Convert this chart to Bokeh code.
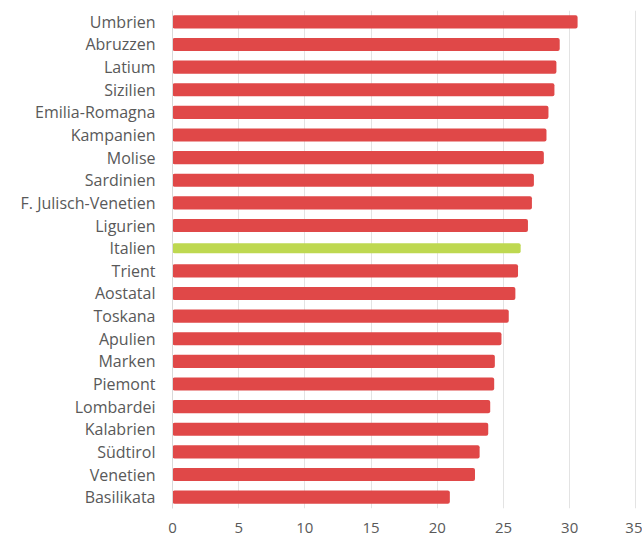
from bokeh.plotting import figure
from bokeh.models import ColumnDataSource, FixedTicker, Range1d
from bokeh.embed import file_html
from bokeh.resources import INLINE

regions = ["Umbrien", "Abruzzen", "Latium", "Sizilien", "Emilia-Romagna", "Kampanien",
           "Molise", "Sardinien", "F. Julisch-Venetien", "Ligurien", "Italien", "Trient",
           "Aostatal", "Toskana", "Apulien", "Marken", "Piemont", "Lombardei", "Kalabrien",
           "Südtirol", "Venetien", "Basilikata"]
values = [30.6, 29.25, 29.0, 28.85, 28.4, 28.25, 28.05, 27.3, 27.15, 26.85, 26.3, 26.1,
          25.9, 25.4, 24.85, 24.35, 24.3, 24.0, 23.85, 23.2, 22.85, 20.95]
x_ticks = [0, 5, 10, 15, 20, 25, 30, 35]

RED = "#e04848"
GREEN = "#bed850"

colors = [GREEN if r == "Italien" else RED for r in regions]
heights = [0.44 if r == "Italien" else 0.58 for r in regions]

src = ColumnDataSource(dict(y=regions, x=values, c=colors, h=heights))

p = figure(y_range=list(reversed(regions)), x_range=Range1d(0, 35.05),
           frame_width=464, frame_height=498,
           min_border_left=172, min_border_top=10, min_border_right=6, min_border_bottom=0,
           output_backend="svg", toolbar_location=None, outline_line_color=None)

p.hbar(y="y", right="x", left=0, height="h", fill_color="c", line_color=None,
       border_radius=2, source=src)

p.xaxis.ticker = FixedTicker(ticks=x_ticks)
p.xaxis.axis_line_color = None
p.xaxis.major_tick_line_color = None
p.xaxis.minor_tick_line_color = None
p.xaxis.major_tick_out = 0
p.xaxis.major_tick_in = 0
p.xaxis.major_label_standoff = 14
p.xaxis.major_label_text_font = "Open Sans"
p.xaxis.major_label_text_font_size = "15px"
p.xaxis.major_label_text_color = "#595959"

p.yaxis.axis_line_color = "#d9d9d9"
p.yaxis.major_tick_line_color = None
p.yaxis.minor_tick_line_color = None
p.yaxis.major_tick_out = 0
p.yaxis.major_tick_in = 0
p.yaxis.major_label_standoff = 17
p.yaxis.major_label_text_font = "Open Sans"
p.yaxis.major_label_text_font_size = "16px"
p.yaxis.major_label_text_color = "#595959"

p.xgrid.grid_line_color = "#e3e3e3"
p.xgrid.grid_line_width = 1
p.ygrid.grid_line_color = None

open("out.html", "w").write(file_html(p, INLINE))
